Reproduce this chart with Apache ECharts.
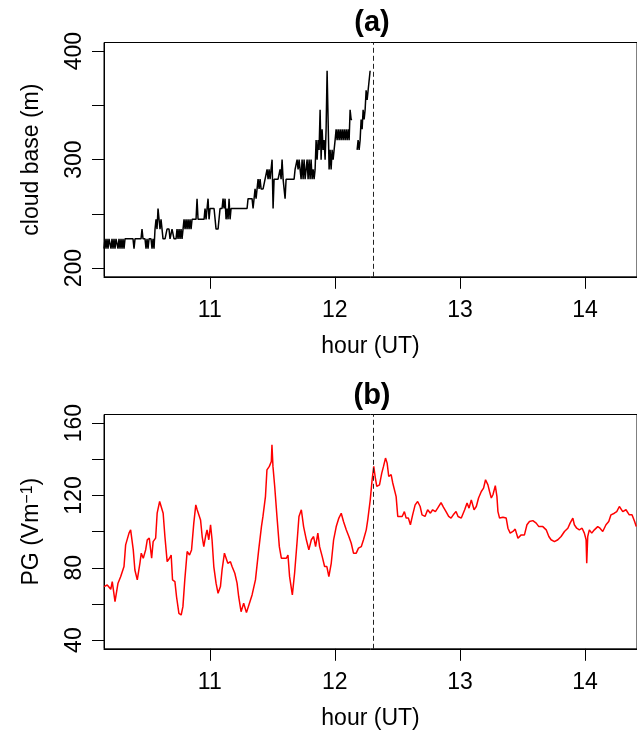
<!DOCTYPE html>
<html>
<head>
<meta charset="utf-8">
<script src="https://cdn.jsdelivr.net/npm/echarts@6/dist/echarts.min.js"></script>
<style>
  html, body { margin: 0; padding: 0; background: #fff; }
  #chart { width: 637px; height: 731px; }
</style>
</head>
<body>
<div id="chart"></div>
<script>
(function () {
  'use strict';

  //cloud base (m), one sample every cbStep hours from cbStart
  var cbStart = 10.154;
  var cbStep = 0.008;
  var cloudBase = [
    218, 227, 218, 227, 218, 227, 227, 218, 227, 218, 227, 218, 227, 227, 218,
    227, 218, 227, 218, 227, 218, 227, 227, 227, 227, 227, 227, 227, 227, 227,
    218, 227, 227, 227, 227, 227, 227, 227, 236, 227, 227, 227, 218, 227, 218,
    227, 227, 227, 218, 227, 218, 236, 245, 236, 255, 245, 236, 245, 236, 227,
    227, 227, 227, 236, 236, 236, 227, 227, 236, 236, 227, 227, 227, 236, 227,
    236, 227, 236, 227, 236, 245, 236, 245, 236, 245, 236, 245, 236, 245, 245,
    245, 245, 245, 264, 245, 245, 245, 245, 245, 245, 245, 255, 245, 255, 264,
    245, 255, 255, 255, 255, 255, 255, 236, 236, 236, 236, 255, 255, 255, 264,
    255, 264, 245, 255, 245, 264, 245, 255, 255, 255, 255, 255, 255, 255, 255,
    255, 255, 255, 255, 255, 255, 255, 255, 255, 264, 264, 264, 264, 264, 255,
    255, 273, 264, 273, 282, 273, 282, 273, 273, 273, 273, 282, 282, 291, 282,
    291, 282, 291, 300, 255, 282, 282, 282, 282, 282, 282, 291, 282, 300, 282,
    282, 264, 282, 282, 282, 282, 282, 282, 282, 282, 282, 291, 291, 300, 291,
    300, 300, 282, 300, 282, 300, 282, 291, 300, 282, 300, 282, 300, 282, 291,
    282, 291, 318, 300, 318, 309, 346, 300, 328, 309, 318, 300, 328, 382, 382,
    291, 309, 291, 309, 300, 309, 318, 328, 318, 328, 318, 328, 318, 328, 318,
    328, 318, 328, 318, 328, 318, 346, 337, 337, null, null, null, null, 309, 318,
    309, 318, 337, 328, 346, 337, 346, 364, 355, 364, 373, 382
  ];

  //potential gradient (V/m)
  var pgHour = [
    10.154, 10.180, 10.208, 10.220, 10.242, 10.252, 10.266, 10.287, 10.300, 10.314,
    10.327, 10.354, 10.367, 10.388, 10.401, 10.420, 10.441, 10.452, 10.468, 10.487,
    10.500, 10.516, 10.535, 10.547, 10.567, 10.579, 10.599, 10.611, 10.627, 10.641,
    10.659, 10.678, 10.691, 10.702, 10.721, 10.734, 10.753, 10.771, 10.785, 10.800,
    10.819, 10.838, 10.854, 10.872, 10.888, 10.899, 10.912, 10.926, 10.939, 10.952,
    10.966, 10.978, 10.992, 11.006, 11.018, 11.032, 11.050, 11.066, 11.085, 11.098,
    11.117, 11.128, 11.144, 11.165, 11.178, 11.200, 11.218, 11.231, 11.250, 11.271,
    11.293, 11.317, 11.338, 11.365, 11.391, 11.413, 11.425, 11.445, 11.457, 11.476,
    11.492, 11.497, 11.505, 11.519, 11.537, 11.556, 11.572, 11.612, 11.625, 11.638,
    11.660, 11.678, 11.697, 11.713, 11.732, 11.750, 11.772, 11.792, 11.812, 11.830,
    11.846, 11.864, 11.878, 11.899, 11.918, 11.936, 11.952, 11.971, 11.990, 12.011,
    12.032, 12.051, 12.069, 12.091, 12.112, 12.131, 12.149, 12.171, 12.189, 12.211,
    12.229, 12.251, 12.263, 12.283, 12.298, 12.311, 12.322, 12.335, 12.357, 12.375,
    12.389, 12.405, 12.418, 12.431, 12.450, 12.463, 12.476, 12.490, 12.503, 12.516,
    12.538, 12.556, 12.570, 12.588, 12.604, 12.622, 12.642, 12.662, 12.682, 12.697,
    12.721, 12.742, 12.764, 12.782, 12.804, 12.822, 12.849, 12.868, 12.889, 12.910,
    12.929, 12.947, 12.969, 12.985, 13.011, 13.038, 13.057, 13.073, 13.091, 13.113,
    13.131, 13.149, 13.171, 13.189, 13.205, 13.224, 13.237, 13.251, 13.264, 13.283,
    13.296, 13.304, 13.317, 13.344, 13.370, 13.384, 13.402, 13.424, 13.442, 13.464,
    13.490, 13.516, 13.536, 13.556, 13.583, 13.610, 13.631, 13.663, 13.690, 13.711,
    13.729, 13.756, 13.783, 13.809, 13.836, 13.863, 13.881, 13.903, 13.915, 13.934,
    13.955, 13.977, 13.995, 14.009, 14.014, 14.022, 14.035, 14.054, 14.075, 14.102,
    14.120, 14.142, 14.168, 14.190, 14.208, 14.235, 14.254, 14.275, 14.302, 14.328,
    14.354, 14.376, 14.397, 14.410
  ];
  var pgValue = [
    69.6, 70.5, 68.1, 72.4, 61.3, 60.4, 71.5, 75.1, 74.2, 80.7,
    92.7, 99.2, 101.0, 89.9, 78.8, 73.3, 82.5, 88.1, 85.3, 89.9,
    95.5, 96.4, 85.3, 94.5, 96.4, 110.2, 116.7, 116.7, 110.2, 97.3,
    83.4, 85.3, 87.1, 73.3, 72.4, 64.0, 54.8, 53.9, 58.5, 73.3,
    89.0, 87.1, 89.9, 104.7, 114.8, 112.1, 111.1, 106.5, 97.3, 91.7,
    97.3, 101.0, 95.5, 103.8, 95.5, 80.7, 71.5, 65.9, 69.6, 78.8,
    88.1, 89.0, 82.5, 83.4, 80.7, 77.0, 71.5, 64.0, 55.7, 60.4,
    55.2, 60.4, 65.0, 73.3, 89.9, 102.8, 108.4, 119.4, 134.2, 136.1,
    138.8, 148.1, 136.1, 125.0, 108.4, 91.7, 85.3, 85.3, 87.1, 75.1,
    65.0, 77.0, 93.6, 108.4, 112.1, 102.8, 95.5, 89.9, 95.5, 97.3,
    91.7, 99.2, 91.7, 86.2, 80.7, 80.7, 75.1, 82.5, 95.5, 102.8,
    107.5, 110.2, 105.6, 101.0, 97.3, 93.6, 88.1, 88.1, 90.9, 91.7,
    95.5, 101.0, 106.5, 117.6, 128.7, 136.1, 130.5, 125.0, 125.9, 132.4,
    136.1, 140.7, 137.9, 130.5, 131.5, 126.9, 125.9, 119.4, 108.4, 107.5,
    108.4, 111.1, 107.5, 107.5, 103.8, 109.3, 114.8, 116.7, 113.9, 109.3,
    108.4, 112.1, 110.2, 112.1, 111.1, 113.0, 116.1, 113.6, 111.1, 108.4,
    107.5, 109.3, 111.1, 108.4, 107.5, 112.1, 115.8, 113.0, 117.6, 112.1,
    113.9, 118.6, 122.2, 124.1, 128.7, 125.9, 122.2, 118.6, 120.4, 125.4,
    119.4, 111.1, 107.5, 108.0, 107.5, 101.9, 99.2, 100.1, 101.4, 96.4,
    98.2, 98.2, 103.8, 105.6, 106.1, 104.7, 102.8, 102.8, 101.0, 97.3,
    95.5, 94.5, 95.5, 97.3, 100.1, 101.9, 104.7, 107.5, 103.8, 101.9,
    101.0, 101.9, 99.2, 95.5, 82.5, 97.3, 101.0, 99.2, 101.0, 102.8,
    101.9, 100.1, 103.8, 105.6, 109.3, 110.2, 111.1, 113.9, 111.1, 112.1,
    109.3, 109.3, 105.6, 102.8
  ];

  //dashed marker time
  var markHour = 12.31;

  //axis ticks / labels
  var hourTicks = [11, 12, 13, 14];
  var cbTicks = [200, 250, 300, 350, 400];
  var cbLabels = [200, 300, 400];
  var pgTicks = [40, 60, 80, 100, 120, 140, 160];
  var pgLabels = [40, 80, 120, 160];

  var FONT = '"Liberation Sans", Arial, Helvetica, sans-serif';
  var BASE = 23;

  var cbData = [];
  for (var i = 0; i < cloudBase.length; i++) {
    cbData.push([cbStart + i * cbStep, cloudBase[i]]);
  }
  var pgData = [];
  for (var j = 0; j < pgHour.length; j++) {
    pgData.push([pgHour[j], pgValue[j]]);
  }

  function xAxisFor(idx) {
    return {
      gridIndex: idx,
      type: 'value',
      min: 10.154,
      max: 14.416,
      splitLine: { show: false },
      axisLine: { show: true, onZero: false, lineStyle: { color: '#000', width: 1 } },
      axisTick: { show: true, length: 12, customValues: hourTicks, lineStyle: { color: '#000' } },
      axisLabel: { customValues: hourTicks, fontSize: BASE, color: '#000', fontFamily: FONT, margin: 22 },
      name: 'hour (UT)',
      nameLocation: 'middle',
      nameGap: 58,
      nameTextStyle: { fontSize: BASE, color: '#000', fontFamily: FONT }
    };
  }

  function yAxisFor(idx, min, max, ticks, labels, name, rich) {
    return {
      gridIndex: idx,
      type: 'value',
      min: min,
      max: max,
      splitLine: { show: false },
      axisLine: { show: true, onZero: false, lineStyle: { color: '#000', width: 1 } },
      axisTick: { show: true, length: 12, customValues: ticks, lineStyle: { color: '#000' } },
      axisLabel: { customValues: labels, rotate: 90, fontSize: BASE, color: '#000', fontFamily: FONT, margin: 18 },
      name: name,
      nameLocation: 'middle',
      nameGap: 61,
      nameTextStyle: { fontSize: BASE, color: '#000', fontFamily: FONT, rich: rich || {} }
    };
  }

  function markFor() {
    return {
      silent: true,
      symbol: ['none', 'none'],
      label: { show: false },
      lineStyle: { color: '#222', type: [5, 3], width: 1 },
      data: [{ xAxis: markHour }]
    };
  }

  var chart = echarts.init(document.getElementById('chart'), null, { renderer: 'canvas' });

  var option = {
    animation: false,
    backgroundColor: '#fff',
    grid: [
      { left: 104, right: -1, top: 42.5, height: 234.3, show: true, borderColor: '#000', borderWidth: 1 },
      { left: 104, right: -1, top: 414.5, height: 234.3, show: true, borderColor: '#000', borderWidth: 1 }
    ],
    xAxis: [xAxisFor(0), xAxisFor(1)],
    yAxis: [
      yAxisFor(0, 192, 408, cbTicks, cbLabels, 'cloud base (m)'),
      yAxisFor(1, 35.2, 164.8, pgTicks, pgLabels, 'PG (Vm{s|\u22121})', {
        s: { fontSize: 16, fontFamily: FONT, color: '#000', verticalAlign: 'top', lineHeight: 14 }
      })
    ],
    graphic: [
      { type: 'text', x: 372, y: 23, style: { text: '(a)', align: 'center', verticalAlign: 'middle', fontSize: 29, fontWeight: 'bold', fontFamily: FONT, fill: '#000' } },
      { type: 'text', x: 372, y: 395.5, style: { text: '(b)', align: 'center', verticalAlign: 'middle', fontSize: 29, fontWeight: 'bold', fontFamily: FONT, fill: '#000' } }
    ],
    series: [
      {
        name: 'cloud base',
        type: 'line',
        xAxisIndex: 0,
        yAxisIndex: 0,
        data: cbData,
        showSymbol: false,
        connectNulls: false,
        lineStyle: { color: '#000', width: 1.5 },
        markLine: markFor()
      },
      {
        name: 'PG',
        type: 'line',
        xAxisIndex: 1,
        yAxisIndex: 1,
        data: pgData,
        showSymbol: false,
        lineStyle: { color: '#ff0000', width: 1.5 },
        markLine: markFor()
      }
    ]
  };

  chart.setOption(option);
})();
</script>
</body>
</html>
